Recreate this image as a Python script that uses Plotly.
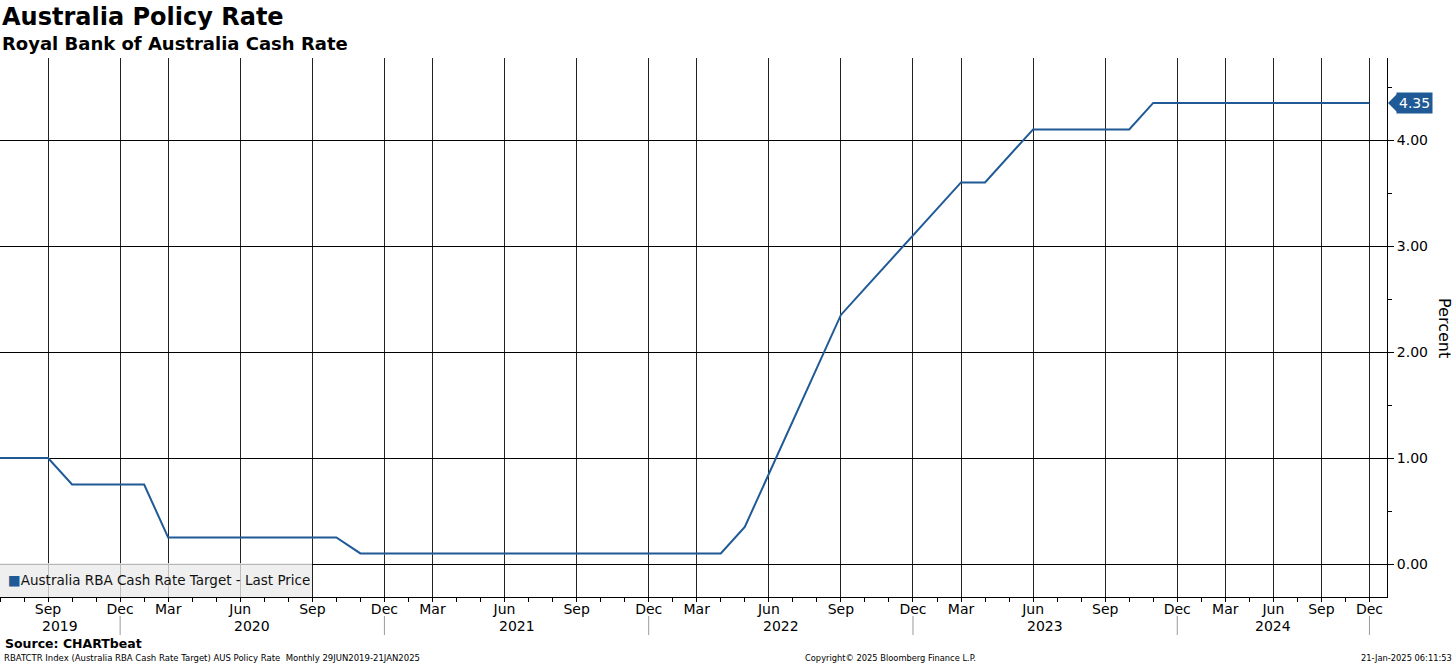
import plotly.graph_objects as go

# RBA meeting months (data points) and cash-rate target (%)
meetings = [
    "2019-07", "2019-08", "2019-09", "2019-10", "2019-11", "2019-12",
    "2020-02", "2020-03", "2020-04", "2020-05", "2020-06", "2020-07", "2020-08", "2020-09", "2020-10", "2020-11", "2020-12",
    "2021-02", "2021-03", "2021-04", "2021-05", "2021-06", "2021-07", "2021-08", "2021-09", "2021-10", "2021-11", "2021-12",
    "2022-02", "2022-03", "2022-04", "2022-05", "2022-06", "2022-07", "2022-08", "2022-09", "2022-10", "2022-11", "2022-12",
    "2023-02", "2023-03", "2023-04", "2023-05", "2023-06", "2023-07", "2023-08", "2023-09", "2023-10", "2023-11", "2023-12",
    "2024-02", "2024-03", "2024-05", "2024-06", "2024-08", "2024-09", "2024-11", "2024-12",
]
rates = [
    1.00, 1.00, 1.00, 0.75, 0.75, 0.75,
    0.75, 0.25, 0.25, 0.25, 0.25, 0.25, 0.25, 0.25, 0.25, 0.10, 0.10,
    0.10, 0.10, 0.10, 0.10, 0.10, 0.10, 0.10, 0.10, 0.10, 0.10, 0.10,
    0.10, 0.10, 0.10, 0.35, 0.85, 1.35, 1.85, 2.35, 2.60, 2.85, 3.10,
    3.35, 3.60, 3.60, 3.85, 4.10, 4.10, 4.10, 4.10, 4.10, 4.35, 4.35,
    4.35, 4.35, 4.35, 4.35, 4.35, 4.35, 4.35, 4.35,
]
y_ticks = [0, 1, 2, 3, 4]
month_names = {"03": "Mar", "06": "Jun", "09": "Sep", "12": "Dec"}

series_name = "Australia RBA Cash Rate Target - Last Price"
title = "Australia Policy Rate"
subtitle = "Royal Bank of Australia Cash Rate"

BLUE = "#1f5a96"
FONT = "DejaVu Sans"

x_idx = list(range(len(meetings)))
tick_idx = [i for i, m in enumerate(meetings) if m[5:] in month_names]
tick_txt = [month_names[meetings[i][5:]] for i in tick_idx]

W, H = 1456, 665
ml, mr, mt, mb = 0, 69, 58, 68
pw, ph = W - ml - mr, H - mt - mb

fig = go.Figure()
fig.add_trace(go.Scatter(x=x_idx, y=rates, mode="lines", line=dict(color=BLUE, width=2),
                         showlegend=False, hoverinfo="skip"))

shapes = []
annotations = []

# year labels and separators
years = sorted(set(m[:4] for m in meetings))
prev = 0
for yr in years:
    dec = meetings.index(f"{yr}-12")
    annotations.append(dict(x=(prev + dec) / 2, xref="x", y=-29 / ph, yref="paper", text=yr,
                            showarrow=False, xanchor="center", yanchor="middle",
                            font=dict(family=FONT, size=14, color="#000")))
    shapes.append(dict(type="line", xref="x", yref="paper", x0=dec, x1=dec,
                       y0=-19 / ph, y1=-38 / ph, line=dict(color="#9a9a9a", width=1)))
    prev = dec

# legend box
shapes.append(dict(type="rect", xref="paper", yref="paper", x0=0, x1=312 / pw, y0=0, y1=34 / ph,
                   fillcolor="rgba(234,234,234,0.78)", line=dict(width=0), layer="above"))
annotations.append(dict(x=6 / pw, xref="paper", y=17 / ph, yref="paper",
                        text=f"<span style='color:{BLUE}'>■</span>{series_name}",
                        showarrow=False, xanchor="left", yanchor="middle",
                        font=dict(family=FONT, size=13.5, color="#111")))

# last value tag
last = rates[-1]
annotations.append(dict(x=1396 / pw, xref="paper", y=last, yref="y", text=f"{last:.2f}",
                        showarrow=False, xanchor="left", yanchor="middle", bgcolor=BLUE,
                        borderpad=2, font=dict(family=FONT, size=14, color="white")))
tip, base, hh = 1388 / pw, 1397 / pw, 9 / 106
shapes.append(dict(type="path", xref="paper", yref="y",
                   path=f"M {tip} {last} L {base} {last + hh} L {base} {last - hh} Z",
                   fillcolor=BLUE, line=dict(width=0)))

# axis title
annotations.append(dict(x=1445 / pw, xref="paper", y=(H - mb - 328) / ph, yref="paper", text="Percent",
                        textangle=90, showarrow=False, xanchor="center", yanchor="middle",
                        font=dict(family=FONT, size=16, color="#000")))

# titles
annotations += [
    dict(x=0, xref="paper", y=(H - mb - 17) / ph, yref="paper", text=f"<b>{title}</b>", showarrow=False,
         xanchor="left", yanchor="middle", font=dict(family=FONT, size=24, color="#000")),
    dict(x=0, xref="paper", y=(H - mb - 43) / ph, yref="paper", text=f"<b>{subtitle}</b>", showarrow=False,
         xanchor="left", yanchor="middle", font=dict(family=FONT, size=18, color="#000")),
]
# footer
annotations += [
    dict(x=3 / pw, xref="paper", y=-(643 - (H - mb)) / ph, yref="paper", text="<b>Source: CHARTbeat</b>",
         showarrow=False, xanchor="left", yanchor="middle", font=dict(family=FONT, size=12.5, color="#000")),
    dict(x=2 / pw, xref="paper", y=-(658 - (H - mb)) / ph, yref="paper",
         text="RBATCTR Index (Australia RBA Cash Rate Target) AUS Policy Rate  Monthly 29JUN2019-21JAN2025",
         showarrow=False, xanchor="left", yanchor="middle", font=dict(family=FONT, size=8.5, color="#000")),
    dict(x=890 / pw, xref="paper", y=-(658 - (H - mb)) / ph, yref="paper",
         text="Copyright© 2025 Bloomberg Finance L.P.",
         showarrow=False, xanchor="center", yanchor="middle", font=dict(family=FONT, size=8.3, color="#000")),
    dict(x=1454 / pw, xref="paper", y=-(658 - (H - mb)) / ph, yref="paper",
         text="21-Jan-2025 06:11:53",
         showarrow=False, xanchor="right", yanchor="middle", font=dict(family=FONT, size=8.3, color="#000")),
]

fig.update_layout(
    width=W, height=H,
    margin=dict(l=ml, r=mr, t=mt, b=mb, pad=0),
    paper_bgcolor="white", plot_bgcolor="white",
    showlegend=False,
    shapes=shapes, annotations=annotations,
    xaxis=dict(range=[0, 57.73], tickmode="array", tickvals=tick_idx, ticktext=tick_txt,
               showgrid=True, gridcolor="#222", gridwidth=1, zeroline=False,
               showline=True, linecolor="#000", linewidth=1,
               ticks="outside", ticklen=4, tickcolor="#000", ticklabelstandoff=-5,
               tickfont=dict(family=FONT, size=14, color="#000"),
               minor=dict(tickmode="linear", tick0=0, dtick=1, ticks="outside", ticklen=4,
                          tickcolor="#000", showgrid=False)),
    yaxis=dict(side="right", range=[-0.311, 4.774], tickmode="array", tickvals=y_ticks,
               tickformat=".2f", showgrid=True, gridcolor="#000", gridwidth=1, zeroline=False,
               showline=True, linecolor="#000", linewidth=1,
               ticks="outside", ticklen=6, tickcolor="#000",
               tickfont=dict(family=FONT, size=14, color="#000"),
               minor=dict(tickmode="linear", tick0=0, dtick=0.5, ticks="outside", ticklen=4,
                          tickcolor="#000", showgrid=False)),
)

fig.write_html("out.html", config={"displayModeBar": False},
               post_script="document.body.style.margin='0';document.body.style.overflow='hidden';")
